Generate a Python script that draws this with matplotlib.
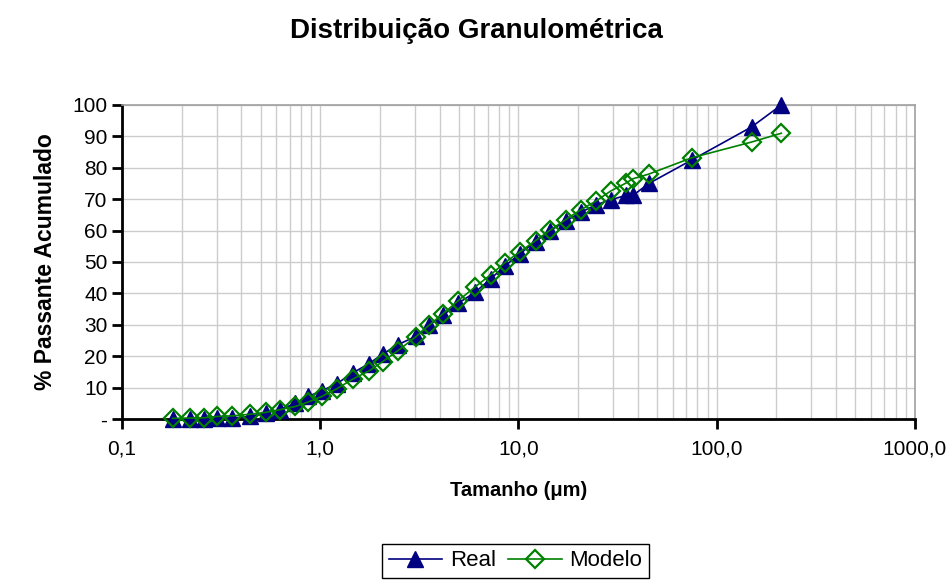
import matplotlib
matplotlib.use("Agg")
import matplotlib.pyplot as plt
from matplotlib.ticker import FixedLocator, FuncFormatter, LogLocator, NullFormatter

plt.rcParams['font.family'] = ['Liberation Sans', 'DejaVu Sans']

# Tamanho (um) - same sizes for both series
tamanho = [0.18, 0.22, 0.26, 0.30, 0.36, 0.44, 0.53, 0.63, 0.75, 0.87,
           1.02, 1.21, 1.47, 1.76, 2.07, 2.47, 3.04, 3.53, 4.16, 4.95,
           6.03, 7.26, 8.54, 10.2, 12.2, 14.5, 17.3, 20.6, 24.6, 29.2,
           34.8, 37.8, 45.5, 75.0, 150.0, 212.0]

real = [0.0, 0.0, 0.0, 0.3, 0.3, 0.8, 1.9, 3.0, 5.0, 7.2,
        9.0, 11.2, 14.8, 17.6, 20.7, 23.7, 26.3, 29.8, 33.0, 36.8,
        40.3, 44.7, 48.7, 52.7, 56.5, 60.0, 63.0, 65.8, 68.2, 69.8,
        71.2, 71.2, 75.0, 82.5, 93.0, 100.0]

modelo = [0.2, 0.3, 0.4, 0.8, 1.0, 1.5, 2.1, 3.0, 4.0, 5.4,
          7.2, 9.6, 12.8, 15.3, 18.3, 21.8, 26.2, 29.8, 33.5, 37.6,
          42.0, 46.0, 49.8, 53.3, 56.8, 60.2, 63.5, 66.6, 69.4, 72.6,
          75.1, 76.5, 78.0, 83.2, 88.2, 91.0]

x_ticks = [0.1, 1.0, 10.0, 100.0, 1000.0]
y_ticks = [0, 10, 20, 30, 40, 50, 60, 70, 80, 90, 100]

fig = plt.figure(figsize=(9.53, 5.80), dpi=100)
ax = fig.add_axes([0.128, 0.2776, 0.832, 0.5414])

ax.plot(tamanho, real, color="#000080", lw=1.2, marker="^", ms=12,
        markerfacecolor="#000080", markeredgecolor="#000080", label="Real",
        zorder=3, clip_on=False)
ax.plot(tamanho, modelo, color="#008000", lw=1.2, marker="D", ms=9.5,
        markerfacecolor="none", markeredgecolor="#008000", mew=1.6,
        label="Modelo", zorder=4, clip_on=False)

ax.set_xscale("log")
ax.set_xlim(0.1, 1000)
ax.set_ylim(0, 100)

ax.xaxis.set_major_locator(FixedLocator(x_ticks))
ax.xaxis.set_minor_locator(LogLocator(base=10, subs=range(2, 10), numticks=20))
ax.xaxis.set_minor_formatter(NullFormatter())
ax.xaxis.set_major_formatter(FuncFormatter(lambda v, p: f"{v:.1f}".replace(".", ",")))
ax.yaxis.set_major_locator(FixedLocator(y_ticks))
ax.yaxis.set_major_formatter(FuncFormatter(lambda v, p: "-" if v == 0 else f"{v:.0f}"))

ax.grid(True, which="both", axis="x", color="#cccccc", lw=1.0)
ax.grid(True, which="major", axis="y", color="#cccccc", lw=1.0)
ax.set_axisbelow(True)

ax.tick_params(axis="both", which="major", direction="out", length=7, width=2,
               labelsize=15, colors="black")
ax.tick_params(axis="x", which="minor", length=0)
ax.tick_params(axis="x", pad=8)

for s in ["left", "bottom"]:
    ax.spines[s].set_linewidth(2)
    ax.spines[s].set_color("black")
for s in ["top", "right"]:
    ax.spines[s].set_linewidth(1.2)
    ax.spines[s].set_color("#a0a0a0")

ax.set_xlabel("Tamanho (μm)", fontsize=14.5, fontweight="bold", labelpad=16)
ax.set_ylabel("% Passante Acumulado", fontsize=16.5, fontweight="bold", labelpad=11)
fig.text(0.5, 0.947, "Distribuição Granulométrica", ha="center", va="center",
         fontsize=20, fontweight="bold")

leg = fig.legend(loc="center", bbox_to_anchor=(0.541, 0.033), ncol=2, fontsize=16,
                 frameon=True, fancybox=False, edgecolor="black", framealpha=1,
                 handlelength=2.4, columnspacing=0.55, handletextpad=0.36,
                 borderpad=0.3, markerscale=0.95)
leg.get_frame().set_linewidth(1.0)

fig.savefig("out.png", dpi=100)
